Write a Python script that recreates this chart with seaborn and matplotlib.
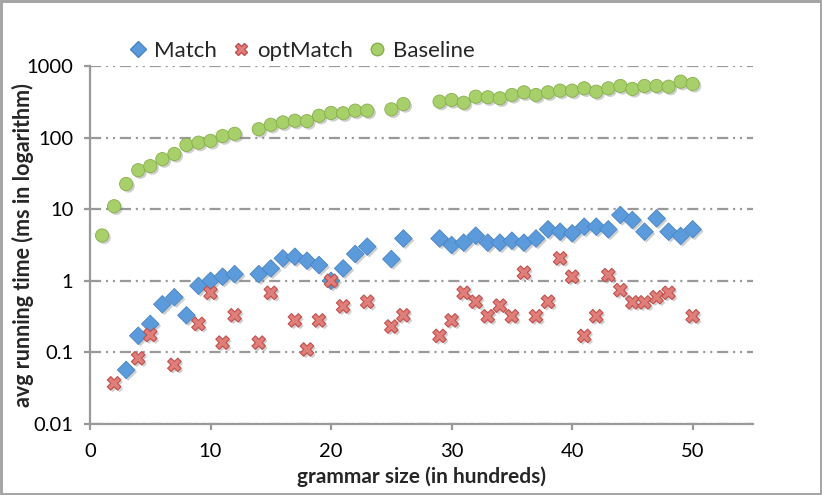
import seaborn as sns
import matplotlib.pyplot as plt
import matplotlib.patheffects as pe
from matplotlib.lines import Line2D
from matplotlib.ticker import NullLocator

# values (grammar size in hundreds, ms)
baseline_x = list(range(1, 13)) + list(range(14, 24)) + [25, 26] + list(range(29, 51))
baseline_y = [4.3, 11, 22.5, 35, 40, 50, 59, 79, 85, 90, 105, 113,
              131, 151, 163, 172, 170, 202, 221, 219, 238, 238,
              248, 294,
              318, 335, 307, 373, 366, 354, 394, 429, 394, 429, 453, 453,
              488, 438, 488, 526, 478, 526, 526, 514, 604, 561]

match_x = list(range(3, 13)) + list(range(14, 24)) + [25, 26] + list(range(29, 51))
match_y = [0.057, 0.171, 0.25, 0.47, 0.59, 0.33, 0.85, 1.0, 1.14, 1.24,
           1.24, 1.49, 2.06, 2.17, 1.91, 1.66, 1.0, 1.49, 2.37, 3.0,
           2.01, 3.9,
           3.9, 3.16, 3.41, 4.27, 3.41, 3.41, 3.63, 3.41, 3.9, 5.24, 4.85,
           4.6, 5.7, 5.7, 5.24, 8.3, 7.06, 4.85, 7.45, 4.85, 4.23, 5.24]

opt_x = [2, 4, 5, 7, 9, 10, 11, 12, 14, 15, 17, 18, 19, 20, 21, 23, 25, 26] + list(range(29, 49)) + [50]
opt_y = [0.037, 0.083, 0.175, 0.067, 0.25, 0.68, 0.137, 0.33,
         0.137, 0.68, 0.28, 0.11, 0.28, 1.0, 0.44, 0.51,
         0.23, 0.33,
         0.17, 0.28, 0.68, 0.51, 0.32, 0.45, 0.32, 1.30, 0.32, 0.51,
         2.06, 1.14, 0.17, 0.32, 1.2, 0.74, 0.5, 0.5, 0.59, 0.68,
         0.32]

y_ticks = [0.01, 0.1, 1, 10, 100, 1000]
y_tick_labels = ["0.01", "0.1", "1", "10", "100", "1000"]
x_ticks = [0, 10, 20, 30, 40, 50]

sns.set_style("white")
plt.rcParams['font.family'] = ['Lato', 'DejaVu Sans']
plt.rcParams['lines.scale_dashes'] = False

blue, blue_edge = "#5B9BDB", "#4A84C4"
red, red_edge = "#E07E7A", "#C0504D"
green, green_edge = "#A8D06A", "#86AE4C"

fig = plt.figure(figsize=(8.22, 4.95), dpi=100)
fig.patch.set_edgecolor("#A6A6A6")
fig.patch.set_linewidth(2.5)
ax = fig.add_axes([0.1095, 0.1434, 0.8065, 0.7233])

shadow = [pe.SimplePatchShadow(offset=(1.5, -1.5), shadow_rgbFace="#777777", alpha=0.35), pe.Normal()]

sns.scatterplot(x=match_x, y=match_y, ax=ax, marker="D", s=80, color=blue,
                edgecolor=blue_edge, linewidth=0.6, zorder=3)
sns.scatterplot(x=opt_x, y=opt_y, ax=ax, marker="X", s=95, color=red,
                edgecolor=red_edge, linewidth=0.8, zorder=4)
sns.scatterplot(x=baseline_x, y=baseline_y, ax=ax, marker="o", s=90, color=green,
                edgecolor=green_edge, linewidth=0.6, zorder=3)
for coll in ax.collections:
    coll.set_path_effects(shadow)

ax.set_yscale("log")
ax.set_ylim(0.01, 1000)
ax.set_xlim(0, 55)
ax.set_yticks(y_ticks)
ax.set_yticklabels(y_tick_labels)
ax.yaxis.set_minor_locator(NullLocator())
ax.set_xticks(x_ticks)

ax.yaxis.grid(True, linestyle=(0, (8, 3.5, 1.5, 3.5, 1.5, 3.5)), color="#999999", linewidth=1.6)
ax.xaxis.grid(False)
ax.set_axisbelow(True)

for side in ["top", "right"]:
    ax.spines[side].set_visible(False)
for side in ["left", "bottom"]:
    ax.spines[side].set_color("#999999")
    ax.spines[side].set_linewidth(1.6)

ax.tick_params(axis="both", direction="out", length=4, width=1.6, color="#999999",
               labelsize=14.5, labelcolor="black", bottom=True, left=True)
ax.tick_params(axis="x", pad=10)
ax.tick_params(axis="y", pad=8)

ax.set_xlabel("grammar size (in hundreds)", fontsize=15, fontweight="bold")
ax.set_ylabel("avg running time (ms in logarithm)", fontsize=15.5, fontweight="bold")
ax.xaxis.set_label_coords(0.5, -0.118)
ax.yaxis.set_label_coords(-0.085, 0.5)

handles = [
    Line2D([], [], marker="D", linestyle="none", markersize=8, markerfacecolor=blue, markeredgecolor=blue_edge),
    Line2D([], [], marker="X", linestyle="none", markersize=9, markerfacecolor=red, markeredgecolor=red_edge),
    Line2D([], [], marker="o", linestyle="none", markersize=9, markerfacecolor=green, markeredgecolor=green_edge),
]
fig.legend(handles, ["Match", "optMatch", "Baseline"], loc="center", bbox_to_anchor=(0.366, 0.897),
           ncol=3, frameon=False, fontsize=16, handletextpad=0.2, columnspacing=0.6, handlelength=1.0)

fig.savefig("out.png", dpi=100)
